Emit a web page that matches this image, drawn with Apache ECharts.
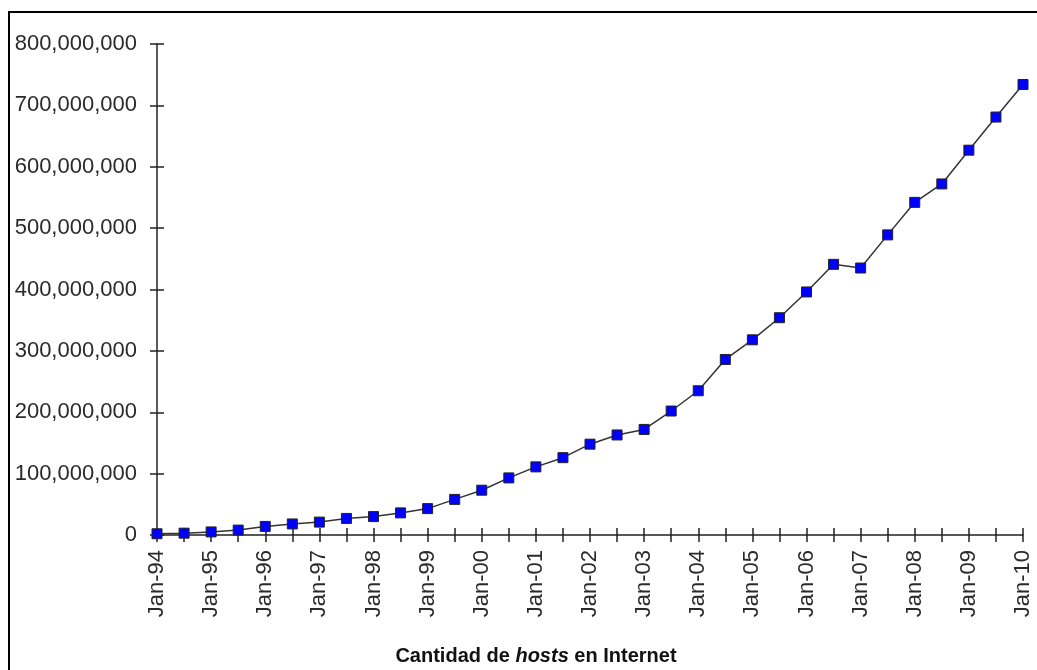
<!DOCTYPE html>
<html>
<head>
<meta charset="utf-8">
<script src="https://cdn.jsdelivr.net/npm/echarts@6/dist/echarts.min.js"></script>
<style>
  html, body { margin: 0; padding: 0; background: #fff; }
  #main { width: 1037px; height: 670px; }
</style>
</head>
<body>
<div id="main"></div>
<script>
// half-year samples, Jan-94 .. Jan-10
var periods = ['Jan-94','Jul-94','Jan-95','Jul-95','Jan-96','Jul-96','Jan-97','Jul-97',
  'Jan-98','Jul-98','Jan-99','Jul-99','Jan-00','Jul-00','Jan-01','Jul-01',
  'Jan-02','Jul-02','Jan-03','Jul-03','Jan-04','Jul-04','Jan-05','Jul-05',
  'Jan-06','Jul-06','Jan-07','Jul-07','Jan-08','Jul-08','Jan-09','Jul-09','Jan-10'];

var hosts = [2000000, 3000000, 5000000, 8000000, 14000000, 18000000, 21000000, 27000000,
  30000000, 36000000, 43000000, 58000000, 73000000, 93000000, 111000000, 126000000,
  148000000, 163000000, 172000000, 202000000, 235000000, 286000000, 318000000, 354000000,
  396000000, 441000000, 435000000, 489000000, 542000000, 572000000, 627000000, 681000000, 734000000];

var yTicks = [0, 800000000, 100000000]; // min, max, interval

var myChart = echarts.init(document.getElementById('main'));

function withCommas(v) {
    return String(v).replace(/\B(?=(\d{3})+(?!\d))/g, ',');
}

var axisColor = '#222';
var labelFont = 'Liberation Sans, Arial, sans-serif';

option = {
    animation: false,
    title: {
        text: '{a|Cantidad de }{b|hosts}{a| en Internet}',
        left: 531,
        top: 641,
        textAlign: 'center',
        textStyle: {
            rich: {
                a: { fontFamily: 'Liberation Sans', fontWeight: 'bold', fontSize: 20, color: '#111' },
                b: { fontFamily: 'Liberation Sans', fontWeight: 'bold', fontStyle: 'italic', fontSize: 20, color: '#111' }
            }
        }
    },
    graphic: [{
        type: 'rect',
        shape: { x: 9, y: 12, width: 2000, height: 2000 },
        style: { fill: 'none', stroke: '#000', lineWidth: 2 },
        silent: true
    }],
    grid: {
        left: 157,
        right: 14,
        top: 44,
        bottom: 135,
        outerBoundsMode: 'none'
    },
    xAxis: [{
        type: 'category',
        data: periods,
        boundaryGap: false,
        axisLine: { lineStyle: { color: axisColor, width: 1.5 } },
        axisTick: { show: true, interval: 0, length: 7, lineStyle: { color: axisColor, width: 1.5 } },
        axisLabel: {
            interval: 1,
            rotate: 90,
            margin: 15,
            fontFamily: labelFont,
            fontSize: 22,
            color: '#2a2a2a'
        },
        splitLine: { show: false }
    }, {
        // second copy only to draw the upper half of each tick
        type: 'category',
        data: periods,
        position: 'bottom',
        boundaryGap: false,
        axisLine: { show: false },
        axisTick: { show: true, inside: true, interval: 0, length: 7, lineStyle: { color: axisColor, width: 1.5 } },
        axisLabel: { show: false },
        splitLine: { show: false }
    }],
    yAxis: [{
        type: 'value',
        min: yTicks[0],
        max: yTicks[1],
        interval: yTicks[2],
        axisLine: { show: true, lineStyle: { color: axisColor, width: 1.5 } },
        axisTick: { show: true, length: 7, lineStyle: { color: axisColor, width: 1.5 } },
        axisLabel: {
            margin: 20,
            fontFamily: labelFont,
            fontSize: 22,
            color: '#2a2a2a',
            formatter: withCommas
        },
        splitLine: { show: false }
    }, {
        type: 'value',
        position: 'left',
        min: yTicks[0],
        max: yTicks[1],
        interval: yTicks[2],
        axisLine: { show: false },
        axisTick: { show: true, inside: true, length: 7, lineStyle: { color: axisColor, width: 1.5 } },
        axisLabel: { show: false },
        splitLine: { show: false }
    }],
    series: [{
        name: 'hosts',
        type: 'line',
        data: hosts,
        symbol: 'rect',
        symbolSize: 10,
        showAllSymbol: true,
        lineStyle: { color: '#333', width: 1.5 },
        itemStyle: { color: '#0000ff', borderColor: '#222', borderWidth: 1 },
        z: 5
    }]
};

myChart.setOption(option);
</script>
</body>
</html>
